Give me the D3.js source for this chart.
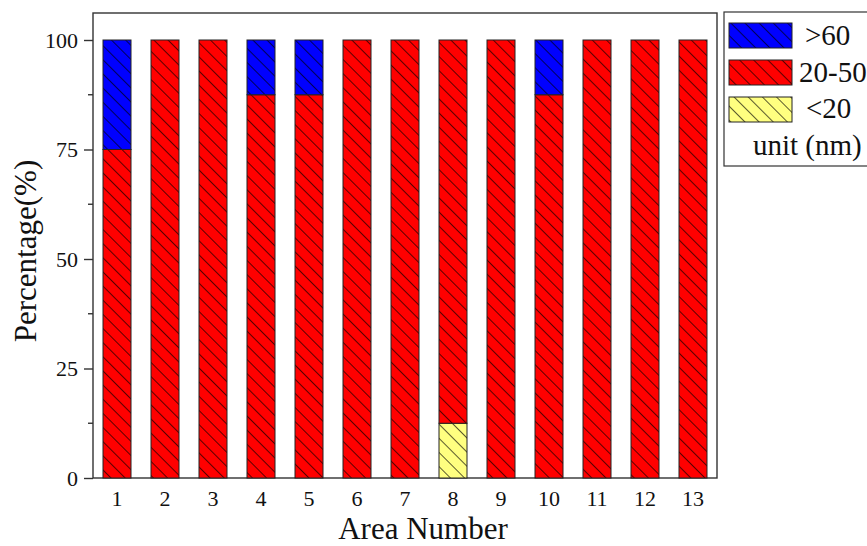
<!DOCTYPE html>
<html>
<head>
<meta charset="utf-8">
<script src="https://cdn.jsdelivr.net/npm/d3@7"></script>
<style>
  body { margin: 0; background: #fff; }
  svg text { font-family: "Liberation Serif", "DejaVu Serif", "Times New Roman", serif; fill: #111; }
</style>
</head>
<body>
<svg id="chart" width="867" height="546"></svg>
<script>
// data
var areas = ["1","2","3","4","5","6","7","8","9","10","11","12","13"];
var below20 = [0, 0, 0, 0, 0, 0, 0, 12.5, 0, 0, 0, 0, 0];
var mid2050 = [75, 100, 100, 87.5, 87.5, 100, 100, 87.5, 100, 87.5, 100, 100, 100];
var above60 = [25, 0, 0, 12.5, 12.5, 0, 0, 0, 0, 12.5, 0, 0, 0];
var seriesKeys = ["<20", "20-50", ">60"];
var seriesColors = { "<20": "#ffff80", "20-50": "#ff0000", ">60": "#0000ff" };
var yTicks = [0, 25, 50, 75, 100];
var legendOrder = [">60", "20-50", "<20"];

var serif = '"Liberation Serif", "DejaVu Serif", "Times New Roman", serif';
var plotL = 93, plotT = 13, plotR = 717, plotB = 478;

var svg = d3.select("#chart");

// hatch patterns, one per colour
var defs = svg.append("defs");
seriesKeys.forEach(function (k, i) {
  var p = defs.append("pattern")
    .attr("id", "hatch" + i)
    .attr("patternUnits", "userSpaceOnUse")
    .attr("width", 10).attr("height", 10)
    .attr("patternTransform", "rotate(-45)");
  p.append("rect").attr("width", 10).attr("height", 10).attr("fill", seriesColors[k]);
  p.append("line").attr("x1", 0).attr("y1", 0).attr("x2", 0).attr("y2", 10)
    .attr("stroke", "#000").attr("stroke-width", 1.3);
});

var rows = areas.map(function (a, i) {
  return { area: a, "<20": below20[i], "20-50": mid2050[i], ">60": above60[i] };
});
var stacked = d3.stack().keys(seriesKeys)(rows);

var x = d3.scaleBand().domain(areas)
  .range([plotL, plotR]).paddingInner(20 / 48).paddingOuter(10 / 48);
var y = d3.scaleLinear().domain([0, 100]).range([plotB, 40]);

// frame
svg.append("rect")
  .attr("x", plotL).attr("y", plotT)
  .attr("width", plotR - plotL).attr("height", plotB - plotT)
  .attr("fill", "none").attr("stroke", "#333").attr("stroke-width", 1.4);

// bars
stacked.forEach(function (s, si) {
  svg.append("g").selectAll("rect")
    .data(s.filter(function (d) { return d[1] - d[0] > 0; }))
    .enter().append("rect")
    .attr("x", function (d) { return x(d.data.area); })
    .attr("width", x.bandwidth())
    .attr("y", function (d) { return y(d[1]); })
    .attr("height", function (d) { return y(d[0]) - y(d[1]); })
    .attr("fill", "url(#hatch" + si + ")")
    .attr("stroke", "#222").attr("stroke-width", 1);
});

// y axis
var yAxis = d3.axisLeft(y).tickValues(yTicks).tickSize(9).tickPadding(6);
var gy = svg.append("g").attr("transform", "translate(" + plotL + ",0)").call(yAxis)
  .attr("font-family", serif).attr("font-size", 22);
gy.select(".domain").remove();
gy.selectAll(".tick line").attr("stroke", "#333").attr("stroke-width", 1.4);
gy.selectAll(".tick text").attr("fill", "#111");
var minor = d3.range(12.5, 100, 25);
svg.append("g").selectAll("line").data(minor).enter().append("line")
  .attr("x1", plotL - 5).attr("x2", plotL)
  .attr("y1", function (d) { return y(d); }).attr("y2", function (d) { return y(d); })
  .attr("stroke", "#333").attr("stroke-width", 1.4);

// x axis labels (no ticks)
var xAxis = d3.axisBottom(x).tickSize(0).tickPadding(12);
var gx = svg.append("g").attr("transform", "translate(0," + plotB + ")").call(xAxis)
  .attr("font-family", serif).attr("font-size", 22);
gx.select(".domain").remove();
gx.selectAll(".tick text").attr("fill", "#111");

// axis titles
svg.append("text").attr("x", 423).attr("y", 539).attr("text-anchor", "middle")
  .style("font-size", "31px").text("Area Number");
svg.append("text").attr("transform", "translate(36,251) rotate(-90)")
  .attr("text-anchor", "middle").style("font-size", "31px").text("Percentage(%)");

// legend
var lg = svg.append("g");
lg.append("rect").attr("x", 724).attr("y", 12).attr("width", 150).attr("height", 154)
  .attr("fill", "#fff").attr("stroke", "#333").attr("stroke-width", 1.2);
var legendTextX = [805, 799, 806];
legendOrder.forEach(function (k, i) {
  var si = seriesKeys.indexOf(k);
  var yy = 23 + i * 37;
  lg.append("rect").attr("x", 729).attr("y", yy).attr("width", 63).attr("height", 25)
    .attr("fill", "url(#hatch" + si + ")").attr("stroke", "#222").attr("stroke-width", 1);
  lg.append("text").attr("x", legendTextX[i]).attr("y", 45 + i * 36.5)
    .style("font-size", "29px").text(k);
});
lg.append("text").attr("x", 753).attr("y", 155)
  .style("font-size", "29px").text("unit (nm)");
</script>
</body>
</html>
